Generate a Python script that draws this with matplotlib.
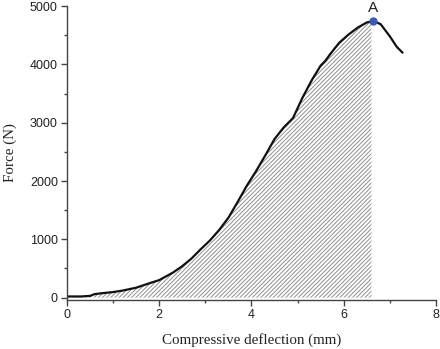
import numpy as np
import matplotlib.pyplot as plt
from matplotlib.ticker import MultipleLocator

# Load-deflection curve of the compression test
deflection = np.array([0.0, 0.3, 0.5, 0.6, 0.75, 1.0, 1.2, 1.5, 1.8, 2.0, 2.3, 2.5,
                       2.7, 2.9, 3.1, 3.3, 3.5, 3.7, 3.9, 4.1, 4.3, 4.5, 4.7,
                       4.9, 5.1, 5.3, 5.5, 5.6, 5.7, 5.9, 6.1, 6.3, 6.5, 6.6,
                       6.64, 6.8, 7.0, 7.15, 7.27])
force = np.array([20, 20, 30, 60, 75, 95, 120, 170, 250, 300, 430, 540,
                  670, 830, 980, 1160, 1370, 1640, 1920, 2170, 2440, 2720, 2920,
                  3080, 3420, 3720, 3980, 4060, 4170, 4370, 4510, 4630, 4720, 4738,
                  4745, 4690, 4480, 4300, 4205])

# Peak point A and end of the hatched region
peak_x = 6.64
peak_y = 4745
fill_end = 6.6

fig = plt.figure(figsize=(4.4, 3.49), dpi=100)
ax = fig.add_axes([0.152, 0.1405, 0.839, 0.842])

# Hatched work area under the curve
mask = deflection <= fill_end
plt.rcParams['hatch.linewidth'] = 0.7
ax.fill_between(deflection[mask], 0, force[mask], facecolor='none',
                edgecolor='#909090', hatch='////////', linewidth=0)

ax.plot(deflection, force, color='#111111', lw=1.6)
ax.plot([peak_x], [peak_y], 'o', color='#3a5bb0', ms=5, zorder=5)
ax.text(peak_x, peak_y + 110, 'A', ha='center', va='bottom',
        fontsize=11, family='Liberation Sans', color='#222222')

ax.set_xlim(0, 8)
ax.set_ylim(-40, 5000)
ax.xaxis.set_major_locator(MultipleLocator(2))
ax.xaxis.set_minor_locator(MultipleLocator(1))
ax.yaxis.set_major_locator(MultipleLocator(1000))
ax.yaxis.set_minor_locator(MultipleLocator(500))

for side in ['top', 'right']:
    ax.spines[side].set_visible(False)
for side in ['left', 'bottom']:
    ax.spines[side].set_color('#444444')
    ax.spines[side].set_linewidth(1.0)

ax.tick_params(which='major', direction='out', length=4, width=1,
               color='#444444', labelsize=9, pad=2.5)
ax.tick_params(which='minor', direction='out', length=2.5, width=1,
               color='#444444')
for lbl in ax.get_xticklabels() + ax.get_yticklabels():
    lbl.set_family('Liberation Sans')
    lbl.set_color('#222222')

ax.set_xlabel('Compressive deflection (mm)', family='Liberation Serif',
              fontsize=10.8, color='#222222', labelpad=9)
ax.set_ylabel('Force (N)', family='Liberation Serif', fontsize=10.8,
              color='#222222', labelpad=9)

fig.savefig('out.png', dpi=100)
